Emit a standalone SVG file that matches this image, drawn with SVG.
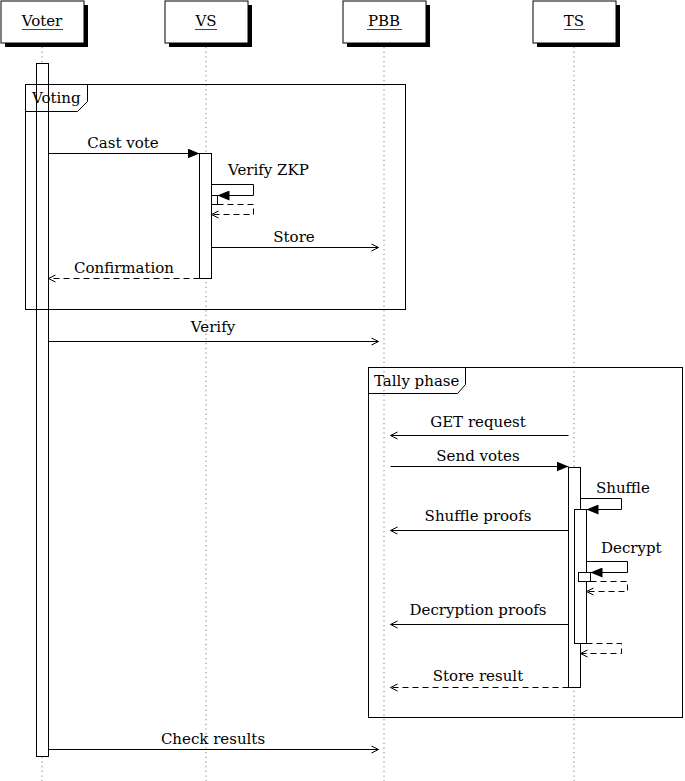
<svg xmlns="http://www.w3.org/2000/svg" width="685" height="781" viewBox="0 0 685 781">
<style>
text{font-family:'DejaVu Serif','Liberation Serif',serif;font-size:15px;fill:#000}
.c{text-anchor:middle}
.ul{stroke:#444;stroke-width:1}
.life{stroke:#777;stroke-width:1;stroke-dasharray:1.2 3.5;fill:none}
.box{fill:#fff;stroke:#000;stroke-width:1}
.shadow{fill:#000}
.act{fill:#fff;stroke:#000;stroke-width:1}
.frame{fill:none;stroke:#000;stroke-width:1}
.msg{fill:none;stroke:#000;stroke-width:1}
.ret{fill:none;stroke:#000;stroke-width:1;stroke-dasharray:6 4}
</style>
<defs>
<marker id="fill" markerWidth="12" markerHeight="10" refX="12" refY="5" orient="auto" markerUnits="userSpaceOnUse"><path d="M0,0 L12,5 L0,10 Z" fill="#000"/></marker>
<marker id="open" markerWidth="10" markerHeight="10" refX="9" refY="5" orient="auto" markerUnits="userSpaceOnUse"><path d="M2,1.5 L9,5 L2,8.5" fill="none" stroke="#000" stroke-width="1"/></marker>
</defs>

<g id="lifelines">
<line class="life" x1="42" y1="47" x2="42" y2="781"/>
<line class="life" x1="206" y1="47" x2="206" y2="781"/>
<line class="life" x1="384" y1="47" x2="384" y2="781"/>
<line class="life" x1="574" y1="47" x2="574" y2="781"/>
</g>

<g id="voter">
<rect class="shadow" x="5" y="5" width="83" height="42"/>
<rect class="box" x="1" y="1" width="83" height="42"/>
<text class="c" x="42" y="26">Voter</text>
<line class="ul" x1="22" y1="29.5" x2="63" y2="29.5"/>
</g>
<g id="vs">
<rect class="shadow" x="169" y="5" width="83" height="42"/>
<rect class="box" x="165" y="1" width="83" height="42"/>
<text class="c" x="206" y="26">VS</text>
<line class="ul" x1="195" y1="29.5" x2="217" y2="29.5"/>
</g>
<g id="pbb">
<rect class="shadow" x="347" y="5" width="83" height="42"/>
<rect class="box" x="343" y="1" width="83" height="42"/>
<text class="c" x="384" y="26">PBB</text>
<line class="ul" x1="367" y1="29.5" x2="402" y2="29.5"/>
</g>
<g id="ts">
<rect class="shadow" x="537" y="5" width="83" height="42"/>
<rect class="box" x="533" y="1" width="83" height="42"/>
<text class="c" x="574" y="26">TS</text>
<line class="ul" x1="564" y1="29.5" x2="585" y2="29.5"/>
</g>

<g id="activations">
<rect class="act" x="36.5" y="63.5" width="12" height="693"/>
<rect class="act" x="199.5" y="153.5" width="12" height="125"/>
<rect class="act" x="211.5" y="195.5" width="6" height="9"/>
<rect class="act" x="568.5" y="467.5" width="12" height="220"/>
<rect class="act" x="574.5" y="509.5" width="12" height="134"/>
<rect class="act" x="578.5" y="572.5" width="12" height="9"/>
</g>

<g id="frame-voting">
<rect class="frame" x="25.5" y="84.5" width="380" height="225"/>
<path class="frame" d="M25.5,111.5 H77.5 L87.5,101.5 V84.5"/>
<text x="32" y="103">Voting</text>
</g>
<g id="frame-tally">
<rect class="frame" x="368.5" y="367.5" width="314" height="350"/>
<path class="frame" d="M368.5,393.5 H457.5 L465.5,384.5 V367.5"/>
<text x="374" y="386">Tally phase</text>
</g>

<g id="connectors">
<line class="msg" x1="48.5" y1="153.5" x2="199.5" y2="153.5" marker-end="url(#fill)"/>
<text class="c" x="123" y="148">Cast vote</text>

<path class="msg" d="M211.5,184.5 H253.5 V195.5 H217.5" marker-end="url(#fill)"/>
<text x="228" y="175">Verify ZKP</text>
<path class="ret" d="M217.5,204.5 H253.5 V214.5 H211.5" marker-end="url(#open)"/>

<line class="msg" x1="211.5" y1="247.5" x2="378.5" y2="247.5" marker-end="url(#open)"/>
<text class="c" x="294" y="242">Store</text>

<line class="ret" x1="199.5" y1="278.5" x2="48.5" y2="278.5" marker-end="url(#open)"/>
<text class="c" x="124" y="273">Confirmation</text>

<line class="msg" x1="48.5" y1="341.5" x2="378.5" y2="341.5" marker-end="url(#open)"/>
<text class="c" x="213" y="332">Verify</text>

<line class="msg" x1="568.5" y1="435.5" x2="390.5" y2="435.5" marker-end="url(#open)"/>
<text class="c" x="478" y="427">GET request</text>

<line class="msg" x1="390.5" y1="466.5" x2="568.5" y2="466.5" marker-end="url(#fill)"/>
<text class="c" x="478" y="461">Send votes</text>

<path class="msg" d="M580.5,498.5 H621.5 V509.5 H586.5" marker-end="url(#fill)"/>
<text x="596" y="493">Shuffle</text>

<line class="msg" x1="568.5" y1="530.5" x2="390.5" y2="530.5" marker-end="url(#open)"/>
<text class="c" x="478" y="521">Shuffle proofs</text>

<path class="msg" d="M586.5,561.5 H627.5 V572.5 H590.5" marker-end="url(#fill)"/>
<text x="601" y="553">Decrypt</text>
<path class="ret" d="M590.5,581.5 H627.5 V591.5 H586.5" marker-end="url(#open)"/>

<line class="msg" x1="568.5" y1="624.5" x2="390.5" y2="624.5" marker-end="url(#open)"/>
<text class="c" x="478" y="615">Decryption proofs</text>

<path class="ret" d="M586.5,643.5 H621.5 V653.5 H580.5" marker-end="url(#open)"/>

<line class="ret" x1="568.5" y1="687.5" x2="390.5" y2="687.5" marker-end="url(#open)"/>
<text class="c" x="478" y="681">Store result</text>

<line class="msg" x1="48.5" y1="749.5" x2="378.5" y2="749.5" marker-end="url(#open)"/>
<text class="c" x="213" y="744">Check results</text>
</g>
</svg>
